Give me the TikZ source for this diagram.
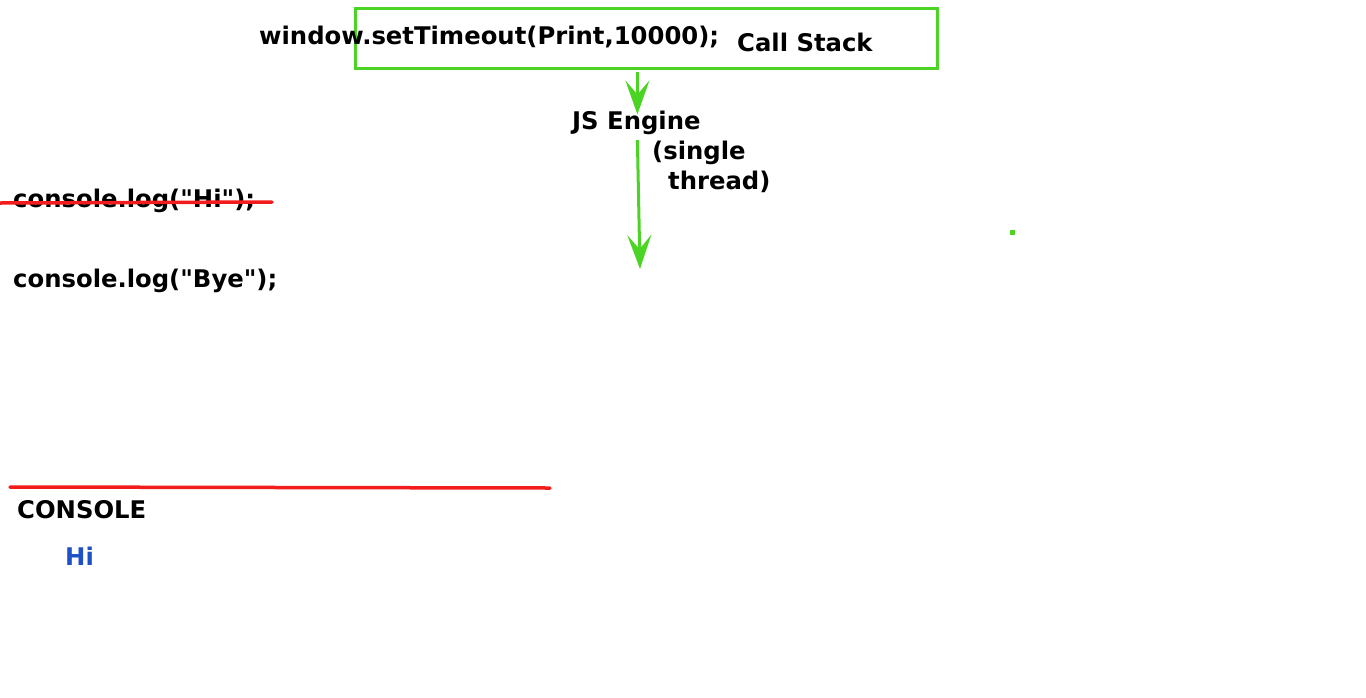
\documentclass[tikz,border=0pt]{standalone}
\usepackage{fontspec}
\newfontfamily\codefont{DejaVu Sans}
\usetikzlibrary{arrows.meta}
\definecolor{linegreen}{HTML}{4CD424}
\definecolor{strikered}{HTML}{F21C1C}
\definecolor{outblue}{HTML}{1E50C8}

\tikzset{
  code/.style={anchor=west, inner sep=0pt, font=\codefont\fontsize{24.3}{29}\selectfont\bfseries},
  flow/.style={-{Stealth[length=34pt, width=24pt, inset=14pt]}, linegreen, line width=3pt},
  strike/.style={strikered, line width=3.5pt, line cap=round}
}

\begin{document}
\begin{tikzpicture}[x=1pt, y=-1pt]
      \useasboundingbox (0,0) rectangle (1366,697);
      \node[draw=linegreen, line width=3pt, minimum width=582pt, minimum height=60pt, inner sep=0pt] (stack) at (646,38) {};
      \node[code] (timeout) at (259,37) {window.setTimeout(Print,10000);};
      \node[code] (stacklabel) at (737,42) {Call Stack};
      \node[code] (engine) at (572,123) {JS Engine};
      \node[code] (single) at (652,153) {(single};
      \node[code] (thread) at (668,182) {thread)};
      \coordinate (out) at (640,269);
      \draw[flow] (stack.south -| engine.north) ++(1,2) -- ++(0,43);
      \draw[flow] (engine.south) ++(1,5) -- (out);
      \node[code] (hi) at (13,201) {console.log("Hi");};
      \draw[strike] (0,203) -- (272,202);
      \node[code] (bye) at (13,281) {console.log("Bye");};
      \draw[strike] (10,487) -- (550,488);
      \node[code] (console) at (17,510) {CONSOLE};
      \node[code, text=outblue] (output) at (65,556) {Hi};
      \fill[linegreen] (1009.5,229.5) rectangle (1014.5,234.5);
    \end{tikzpicture}
\end{document}
